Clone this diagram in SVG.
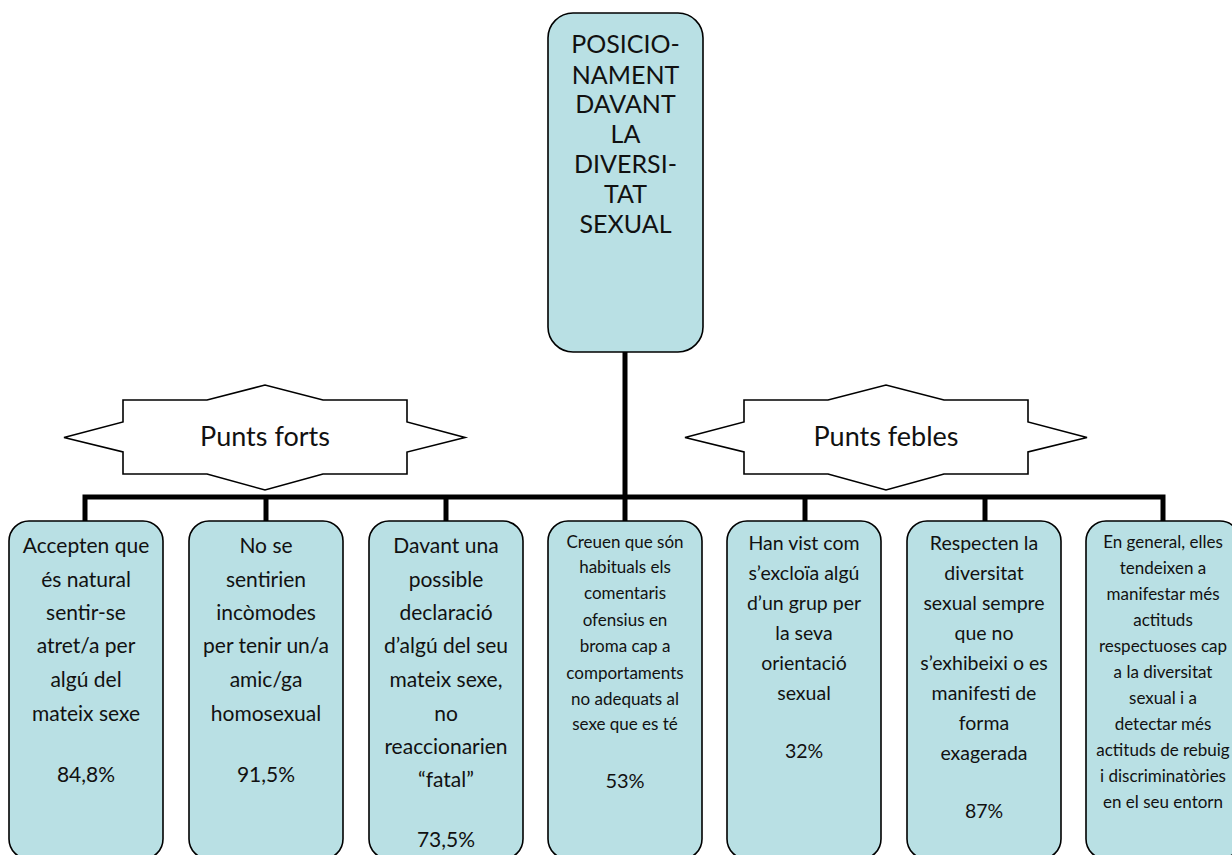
<svg xmlns="http://www.w3.org/2000/svg" width="1232" height="855" viewBox="0 0 1232 855">
<style>
.box{fill:#b9e0e4;stroke:#000;stroke-width:1.6}
.star{fill:#fff;stroke:#000;stroke-width:1.6}
.conn{stroke:#000;stroke-width:5;fill:none}
text{font-family:Lato,"Open Sans","Liberation Sans",sans-serif;fill:#111;text-anchor:middle}
.t{font-size:25px}
.b{font-size:21px}
.m{font-size:19.5px}
.s{font-size:17px}
.p{font-size:27px}
</style>
<rect width="1232" height="855" fill="#fff"/>
<g id="connectors">
<line class="conn" x1="625" y1="352" x2="625" y2="497"/>
<polyline class="conn" points="85,521 85,497 1163,497 1163,521"/>
<line class="conn" x1="266" y1="497" x2="266" y2="521"/>
<line class="conn" x1="446" y1="497" x2="446" y2="521"/>
<line class="conn" x1="625" y1="497" x2="625" y2="521"/>
<line class="conn" x1="805" y1="497" x2="805" y2="521"/>
<line class="conn" x1="985" y1="497" x2="985" y2="521"/>
</g>
<g id="root">
<rect class="box" x="548" y="13" width="155" height="339" rx="25"/>
<text class="t" x="625.5"><tspan x="625.5" y="53">POSICIO-</tspan><tspan x="625.5" y="84">NAMENT</tspan><tspan x="625.5" y="113">DAVANT</tspan><tspan x="625.5" y="143">LA</tspan><tspan x="625.5" y="173">DIVERSI-</tspan><tspan x="625.5" y="203">TAT</tspan><tspan x="625.5" y="233">SEXUAL</tspan></text>
</g>
<g id="punts-forts">
<polygon class="star" points="64,437.5 123,422 123,400 207,400 265,385 323,400 407,400 407,422 465,437.5 407,452 407,474 323,474 265,490 207,474 123,474 123,452"/>
<text class="p" x="265" y="446">Punts forts</text>
</g>
<g id="punts-febles">
<polygon class="star" points="685,437.5 744,422 744,400 828,400 886,385 944,400 1028,400 1028,422 1087,437.5 1028,452 1028,474 944,474 886,490 828,474 744,474 744,452"/>
<text class="p" x="886" y="446">Punts febles</text>
</g>
<g id="n1">
<rect class="box" x="9" y="521" width="154" height="338" rx="20"/>
<text class="b"><tspan x="86" y="553">Accepten que</tspan><tspan x="86" y="587">és natural</tspan><tspan x="86" y="620">sentir-se</tspan><tspan x="86" y="653">atret/a per</tspan><tspan x="86" y="687">algú del</tspan><tspan x="86" y="721">mateix sexe</tspan><tspan x="86" y="782">84,8%</tspan></text>
</g>
<g id="n2">
<rect class="box" x="189" y="521" width="154" height="338" rx="20"/>
<text class="b"><tspan x="266" y="553">No se</tspan><tspan x="266" y="587">sentirien</tspan><tspan x="266" y="620">incòmodes</tspan><tspan x="266" y="653">per tenir un/a</tspan><tspan x="266" y="687">amic/ga</tspan><tspan x="266" y="721">homosexual</tspan><tspan x="266" y="782">91,5%</tspan></text>
</g>
<g id="n3">
<rect class="box" x="369" y="521" width="154" height="338" rx="20"/>
<text class="b"><tspan x="446" y="553">Davant una</tspan><tspan x="446" y="587">possible</tspan><tspan x="446" y="620">declaració</tspan><tspan x="446" y="653">d’algú del seu</tspan><tspan x="446" y="687">mateix sexe,</tspan><tspan x="446" y="721">no</tspan><tspan x="446" y="754">reaccionarien</tspan><tspan x="446" y="787">“fatal”</tspan><tspan x="446" y="847">73,5%</tspan></text>
</g>
<g id="n4">
<rect class="box" x="548" y="521" width="154" height="338" rx="20"/>
<text class="s"><tspan x="625" y="548">Creuen que són</tspan><tspan x="625" y="573">habituals els</tspan><tspan x="625" y="599">comentaris</tspan><tspan x="625" y="626">ofensius en</tspan><tspan x="625" y="652">broma cap a</tspan><tspan x="625" y="679">comportaments</tspan><tspan x="625" y="705">no adequats al</tspan><tspan x="625" y="730">sexe que es té</tspan><tspan x="625" y="788" style="font-size:20px">53%</tspan></text>
</g>
<g id="n5">
<rect class="box" x="727" y="521" width="154" height="338" rx="20"/>
<text class="m"><tspan x="804" y="550">Han vist com</tspan><tspan x="804" y="580">s’excloïa algú</tspan><tspan x="804" y="610">d’un grup per</tspan><tspan x="804" y="640">la seva</tspan><tspan x="804" y="670">orientació</tspan><tspan x="804" y="700">sexual</tspan><tspan x="804" y="758">32%</tspan></text>
</g>
<g id="n6">
<rect class="box" x="907" y="521" width="154" height="338" rx="20"/>
<text class="m"><tspan x="984" y="550">Respecten la</tspan><tspan x="984" y="580">diversitat</tspan><tspan x="984" y="610">sexual sempre</tspan><tspan x="984" y="640">que no</tspan><tspan x="984" y="670">s’exhibeixi o es</tspan><tspan x="984" y="700">manifesti de</tspan><tspan x="984" y="730">forma</tspan><tspan x="984" y="760">exagerada</tspan><tspan x="984" y="818">87%</tspan></text>
</g>
<g id="n7">
<rect class="box" x="1086" y="521" width="154" height="338" rx="20"/>
<text class="s"><tspan x="1163" y="548">En general, elles</tspan><tspan x="1163" y="574">tendeixen a</tspan><tspan x="1163" y="600">manifestar més</tspan><tspan x="1163" y="626">actituds</tspan><tspan x="1163" y="652">respectuoses cap</tspan><tspan x="1163" y="678">a la diversitat</tspan><tspan x="1163" y="704">sexual i a</tspan><tspan x="1163" y="730">detectar més</tspan><tspan x="1163" y="756">actituds de rebuig</tspan><tspan x="1163" y="782">i discriminatòries</tspan><tspan x="1163" y="808">en el seu entorn</tspan></text>
</g>
</svg>
